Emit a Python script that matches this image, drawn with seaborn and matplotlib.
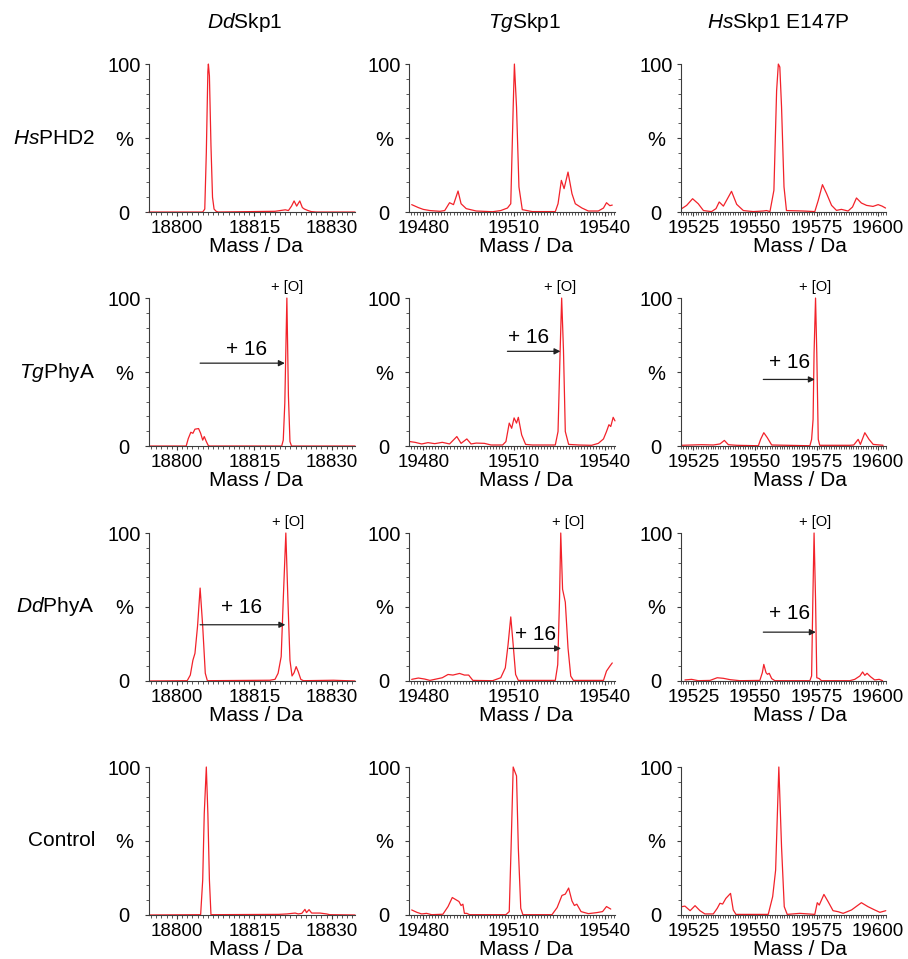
import pandas as pd
import seaborn as sns
import matplotlib.pyplot as plt
from matplotlib.ticker import MultipleLocator

# Column / row headings
col_titles = [r'$\it{Dd}$Skp1', r'$\it{Tg}$Skp1', r'$\it{Hs}$Skp1 E147P']
row_titles = [r'$\it{Hs}$PHD2', r'$\it{Tg}$PhyA', r'$\it{Dd}$PhyA', 'Control']

# Axis ticks per column (Da)
ddskp_ticks = [18800, 18815, 18830]
tgskp_ticks = [19480, 19510, 19540]
hsskp_ticks = [19525, 19550, 19575, 19600]
y_ticks = [0, 50, 100]
y_tick_labels = ['0', '%', '100']

# ---- HsPHD2 row ----
hs_ddskp_mass = [18794.6, 18805.0, 18805.4, 18805.7, 18806.0, 18806.1, 18806.3, 18806.6, 18806.9, 18807.2,
                 18807.6, 18808.0, 18819.0, 18820.0, 18821.0, 18821.6, 18822.2, 18822.7, 18823.2, 18823.8,
                 18824.3, 18824.7, 18825.4, 18826.0, 18827.0, 18834.5]
hs_ddskp_pct = [0, 0, 2, 40, 95, 100, 92, 45, 10, 2,
                0.5, 0, 0.5, 1, 1.5, 1.0, 4, 7.5, 4, 7.5,
                3, 2, 1, 0.3, 0, 0]

hs_tgskp_mass = [19476.2, 19478.4, 19480.0, 19482.2, 19485.5, 19487.1, 19488.7, 19490.0, 19491.5, 19492.5,
                 19494.2, 19497.5, 19502.9, 19505.6, 19507.8, 19508.9, 19509.7, 19510.1, 19510.8, 19511.6,
                 19512.7, 19516.0, 19523.6, 19524.5, 19525.6, 19526.5, 19527.8, 19529.1, 19530.2, 19532.4,
                 19534.5, 19537.8, 19539.5, 19540.5, 19541.6, 19542.4]
hs_tgskp_pct = [5, 3, 1.8, 1, 0.5, 1, 6.3, 5, 14.2, 5.6,
                2.3, 0.7, 0.2, 1, 2.7, 5.6, 71, 100, 71, 17,
                1.6, 0.3, 0.3, 5.6, 21.4, 15.8, 27, 12.4, 5.6, 2.7,
                0.7, 0.7, 2.7, 6.3, 4.3, 4.7]

hs_hsskp_mass = [19520.3, 19522.3, 19524.7, 19527.0, 19529.1, 19532.4, 19534.2, 19535.5, 19537.2, 19540.5,
                 19542.6, 19545.3, 19549.3, 19553.4, 19554.7, 19556.1, 19557.7, 19558.8, 19559.5, 19560.1,
                 19560.8, 19561.8, 19562.8, 19569.6, 19574.3, 19575.7, 19577.4, 19579.1, 19581.1, 19583.1,
                 19585.1, 19587.8, 19589.6, 19591.2, 19593.2, 19595.3, 19597.9, 19600.0, 19601.6, 19603.0]
hs_hsskp_pct = [2.3, 4.5, 9, 5.6, 1, 0.3, 2.3, 6.8, 4, 14,
                5.2, 1, 0.3, 0.7, 1, 0.3, 14.7, 82, 100, 98,
                71, 17, 1, 0.7, 0.3, 7.9, 18.5, 12.4, 4.5, 1.1,
                1.8, 0.7, 3.4, 9.5, 6.1, 4.5, 3.8, 5, 4, 2.7]

# ---- TgPhyA row ----
tg_ddskp_mass = [18794.7, 18801.8, 18802.2, 18802.7, 18803.1, 18803.5, 18804.2, 18804.6, 18805.0, 18805.3,
                 18805.7, 18806.1, 18806.4, 18820.3, 18820.6, 18820.9, 18821.3, 18821.6, 18821.9, 18822.2,
                 18834.5]
tg_ddskp_pct = [0, 0, 5, 9.3, 8.6, 11.4, 11.8, 8.6, 4, 6.4,
                3, 0.2, 0, 0, 4, 29, 100, 34, 3, 0,
                0]

tg_tgskp_mass = [19475.6, 19477.3, 19479.5, 19481.6, 19483.8, 19486.3, 19488.7, 19491.1, 19492.5, 19494.4,
                 19495.8, 19497.5, 19500.2, 19502.4, 19506.2, 19507.3, 19508.4, 19509.2, 19510.0, 19510.8,
                 19511.4, 19512.5, 19513.8, 19516.0, 19523.6, 19524.5, 19525.2, 19525.7, 19526.3, 19526.9,
                 19528.0, 19531.3, 19535.6, 19537.8, 19539.5, 19540.5, 19541.3, 19541.9, 19542.7, 19543.3]
tg_tgskp_pct = [3, 2.5, 1.4, 2.3, 1.6, 2.5, 1.4, 6.4, 1.8, 4.8,
                1.4, 2, 1.8, 0.7, 0.7, 3, 15.5, 12, 19, 15.5,
                19.4, 7.5, 1.1, 0.7, 0.7, 9.8, 64.6, 100, 64.6, 9.8,
                1.1, 0.7, 0.5, 1.8, 4.8, 9.8, 14.4, 13.2, 19.4, 17]

tg_hsskp_mass = [19520.2, 19524.3, 19528.4, 19533.1, 19535.8, 19537.6, 19539.2, 19542.6, 19551.4, 19552.3,
                 19553.6, 19555.0, 19556.8, 19572.3, 19573.0, 19573.6, 19574.0, 19574.6, 19575.1, 19575.7,
                 19576.3, 19588.5, 19590.1, 19591.9, 19592.8, 19594.6, 19596.3, 19598.0, 19602.0]
tg_hsskp_pct = [0.5, 0.7, 0.9, 0.7, 1.4, 3.8, 0.9, 0.5, 0.2, 4.5,
                9, 5.7, 0.7, 0.2, 4.5, 18, 63, 100, 63, 4.5,
                0.5, 0.5, 0.7, 4.5, 1.1, 9, 4.5, 1.1, 0.5]

# ---- DdPhyA row ----
dd_ddskp_mass = [18794.7, 18802.0, 18802.6, 18803.1, 18803.5, 18804.0, 18804.5, 18805.0, 18805.5, 18805.9,
                 18818.0, 18819.0, 18819.6, 18820.2, 18820.6, 18821.1, 18821.5, 18821.9, 18822.3, 18822.7,
                 18823.1, 18823.5, 18824.0, 18824.5, 18830.3, 18834.5]
dd_ddskp_pct = [0, 0.2, 4, 14, 18.7, 37, 62.8, 37, 5.2, 0.2,
                0.5, 1.1, 5.2, 16.5, 55, 100, 55, 14, 3.4, 5.6,
                9.7, 6.3, 1.1, 0.2, 0.5, 0]

dd_tgskp_mass = [19476.2, 19478.4, 19480.5, 19482.2, 19483.8, 19486.3, 19488.2, 19489.8, 19492.0, 19493.6,
                 19495.0, 19496.4, 19502.9, 19505.6, 19507.1, 19508.0, 19508.9, 19509.7, 19510.5, 19511.4,
                 19523.6, 19524.4, 19525.0, 19525.4, 19526.0, 19526.9, 19527.8, 19528.7, 19529.6, 19539.5,
                 19540.5, 19541.6, 19542.4]
dd_tgskp_pct = [1.1, 2, 1.3, 0.4, 1.1, 2.2, 4.4, 4, 5.1, 4,
                4, 0.4, 0.2, 2.2, 8.9, 24.4, 43.3, 24.4, 4.4, 0.4,
                0.4, 11, 55.6, 100, 62, 53.3, 22.2, 3.3, 0.4, 0.4,
                6.7, 10, 12.2]

dd_hsskp_mass = [19521.6, 19524.3, 19527.0, 19531.8, 19534.7, 19537.2, 19539.9, 19543.9, 19552.0, 19553.0,
                 19553.6, 19554.5, 19555.1, 19555.8, 19556.8, 19558.1, 19572.3, 19573.0, 19573.5, 19574.0,
                 19574.6, 19575.1, 19576.1, 19577.0, 19588.5, 19590.5, 19592.6, 19593.7, 19594.6, 19595.5,
                 19596.9, 19598.6, 19600.4, 19601.8]
dd_hsskp_pct = [0.7, 1.1, 0.2, 0.4, 2.2, 1.8, 0.9, 0.2, 0.4, 5.6,
                11.2, 5.6, 4.5, 5.2, 1.6, 0.2, 0.2, 3.4, 55, 100,
                55, 2.2, 1.6, 0.2, 0.2, 1.1, 3.4, 6.1, 3.8, 5.2,
                2.9, 0.7, 1.1, 0.2]

# ---- Control row ----
ctrl_ddskp_mass = [18794.7, 18804.6, 18805.0, 18805.3, 18805.7, 18806.0, 18806.3, 18806.6, 18819.7, 18821.3,
                   18822.9, 18823.5, 18824.2, 18824.8, 18825.1, 18825.6, 18826.1, 18827.7, 18829.0, 18829.6,
                   18834.5]
ctrl_ddskp_pct = [0, 0.2, 23.6, 68.5, 100, 68.5, 23.6, 0.2, 0.4, 0.7,
                  1.3, 0.7, 1.1, 3.8, 1.6, 3.6, 1.3, 1.3, 0.7, 0.2,
                  0]

ctrl_tgskp_mass = [19476.2, 19477.9, 19479.5, 19481.1, 19482.8, 19486.5, 19488.2, 19489.6, 19490.9, 19491.8,
                   19492.5, 19493.1, 19493.6, 19494.4, 19495.3, 19507.3, 19508.4, 19509.0, 19509.7, 19510.3,
                   19510.8, 19511.4, 19512.2, 19512.9, 19522.5, 19524.2, 19525.8, 19526.9, 19528.0, 19529.1,
                   19529.9, 19530.7, 19532.1, 19534.5, 19537.3, 19539.2, 19540.5, 19541.9]
ctrl_tgskp_pct = [3.4, 1.8, 0.7, 1.1, 0.2, 0.5, 5.7, 11.8, 10.2, 9.1,
                  6.4, 7.3, 1.1, 1.1, 0.2, 0.2, 2.3, 45, 100, 96.6,
                  94, 45, 4.5, 0.2, 0.2, 5, 13.2, 14.1, 18.2, 9.5,
                  6.4, 7.3, 2.3, 0.9, 1.6, 2.3, 5.7, 4]

ctrl_hsskp_mass = [19520.3, 19521.6, 19523.7, 19525.7, 19527.7, 19529.7, 19533.1, 19534.7, 19535.8, 19536.9,
                   19538.2, 19540.1, 19541.2, 19542.3, 19555.4, 19557.2, 19558.4, 19559.7, 19560.8, 19561.9,
                   19563.1, 19568.2, 19574.3, 19575.3, 19576.1, 19578.0, 19579.7, 19581.7, 19583.8, 19585.8,
                   19589.2, 19593.2, 19595.9, 19598.6, 19600.7, 19603.1]
ctrl_hsskp_pct = [5.6, 6, 2.9, 6.3, 2.9, 0.7, 0.7, 4.5, 7.9, 7.4,
                  11.2, 14.6, 3.4, 0.4, 0.4, 12.4, 30.3, 100, 46, 5.6,
                  0.4, 1.1, 0.4, 8.3, 6.7, 13.9, 9, 2.9, 2.2, 1.1,
                  3.4, 8.3, 5.6, 3.4, 1.8, 2.9]

# +16 Da shift: unmodified mass -> hydroxylated peak (TgPhyA row, DdPhyA row)
tg_shift_from = [18804.5, 19507.8, 19553.4]
tg_shift_to = [18820.9, 19525.3, 19574.3]
dd_shift_from = [18804.5, 19508.4, 19553.4]
dd_shift_to = [18821.0, 19525.5, 19574.7]
tg_oxy_peak = [18821.4, 19525.3, 19574.3]
dd_oxy_peak = [18821.6, 19527.8, 19574.3]

sns.set_style('ticks')
plt.rcParams['font.family'] = ['Liberation Sans', 'DejaVu Sans']
plt.rcParams['mathtext.fontset'] = 'custom'
plt.rcParams['mathtext.rm'] = 'Liberation Sans'
plt.rcParams['mathtext.it'] = 'Liberation Sans:italic'
plt.rcParams['text.color'] = 'black'
plt.rcParams['axes.labelcolor'] = 'black'
plt.rcParams['xtick.labelcolor'] = 'black'
plt.rcParams['ytick.labelcolor'] = 'black'

LINE_RED = '#f2222a'
AXIS_GREY = '#3c3c3c'

spectra = [
    [(hs_ddskp_mass, hs_ddskp_pct), (hs_tgskp_mass, hs_tgskp_pct), (hs_hsskp_mass, hs_hsskp_pct)],
    [(tg_ddskp_mass, tg_ddskp_pct), (tg_tgskp_mass, tg_tgskp_pct), (tg_hsskp_mass, tg_hsskp_pct)],
    [(dd_ddskp_mass, dd_ddskp_pct), (dd_tgskp_mass, dd_tgskp_pct), (dd_hsskp_mass, dd_hsskp_pct)],
    [(ctrl_ddskp_mass, ctrl_ddskp_pct), (ctrl_tgskp_mass, ctrl_tgskp_pct), (ctrl_hsskp_mass, ctrl_hsskp_pct)],
]
x_ticks = [ddskp_ticks, tgskp_ticks, hsskp_ticks]
xlims = [(18794.6, 18834.5), (19475.3, 19543.3), (19520.0, 19603.2)]

# layout (figure fractions)
row_bottoms = [0.7789, 0.5349, 0.2899, 0.0459]
col_lefts = [0.1641, 0.4504, 0.7500]
col_widths = [0.2269, 0.2269, 0.2258]
ax_h = 0.1543
xlabel_x = [0.52, 0.57, 0.58]

# annotation placement: (arrow y, "+16" x, "+16" y) per panel
shift_layout = {
    1: [(56, 18813.5, 59), (64, 19514.9, 67), (45, 19564.2, 50)],
    2: [(38, 18812.6, 43), (22, 19517.1, 25), (33, 19564.2, 39)],
}
shift_masses = {1: (tg_shift_from, tg_shift_to, tg_oxy_peak),
                2: (dd_shift_from, dd_shift_to, dd_oxy_peak)}

fig = plt.figure(figsize=(9.08, 9.59), dpi=100)

for r in range(4):
    for c in range(3):
        ax = fig.add_axes([col_lefts[c], row_bottoms[r], col_widths[c], ax_h])
        mass, pct = spectra[r][c]
        df = pd.DataFrame({'mass': mass, 'pct': pct})
        sns.lineplot(data=df, x='mass', y='pct', ax=ax, color=LINE_RED,
                     linewidth=0.9, estimator=None, sort=False)
        ax.lines[-1].set_clip_on(False)

        ax.set_xlim(*xlims[c])
        ax.set_ylim(0, 100)
        ax.set_xticks(x_ticks[c])
        ax.set_xticklabels([str(t) for t in x_ticks[c]])
        ax.xaxis.set_minor_locator(MultipleLocator(1))
        ax.set_yticks(y_ticks)
        ax.set_yticklabels(y_tick_labels)
        ax.yaxis.set_minor_locator(MultipleLocator(10))

        ax.tick_params(axis='x', which='major', length=3, width=0.8, pad=3,
                       labelsize=13.5, color=AXIS_GREY)
        ax.tick_params(axis='x', which='minor', length=2, width=0.6, color=AXIS_GREY)
        ax.tick_params(axis='y', which='major', length=3, width=0.8, pad=15,
                       labelsize=14.5, color=AXIS_GREY)
        ax.tick_params(axis='y', which='minor', length=2, width=0.6, color=AXIS_GREY)
        for lbl in ax.get_yticklabels():
            lbl.set_horizontalalignment('center')

        sns.despine(ax=ax)
        for side in ['left', 'bottom']:
            ax.spines[side].set_color(AXIS_GREY)
            ax.spines[side].set_linewidth(0.8)

        ax.set_ylabel('')
        ax.set_xlabel('Mass / Da', fontsize=15)
        ax.xaxis.label.set_verticalalignment('center')
        ax.xaxis.set_label_coords(xlabel_x[c], -0.235)

        if r in shift_layout:
            s_from, s_to, oxy = shift_masses[r]
            arrow_y, txt_x, txt_y = shift_layout[r][c]
            ax.annotate('', xy=(s_to[c], arrow_y), xytext=(s_from[c], arrow_y),
                        arrowprops=dict(arrowstyle='-|>', color='#222222', lw=0.9,
                                        mutation_scale=9, shrinkA=0, shrinkB=0))
            ax.text(txt_x, txt_y, '+ 16', ha='center', va='bottom', fontsize=15)
            ax.text(oxy[c], 103, '+ [O]', ha='center', va='bottom', fontsize=10.5,
                    clip_on=False)

    fig.text(0.1046, row_bottoms[r] + ax_h / 2, row_titles[r], ha='right', va='center',
             fontsize=15)

col_title_x = [0.269, 0.578, 0.857]
for c in range(3):
    fig.text(col_title_x[c], 0.977, col_titles[c], ha='center', va='center', fontsize=15)

plt.savefig('out.png', dpi=100)
